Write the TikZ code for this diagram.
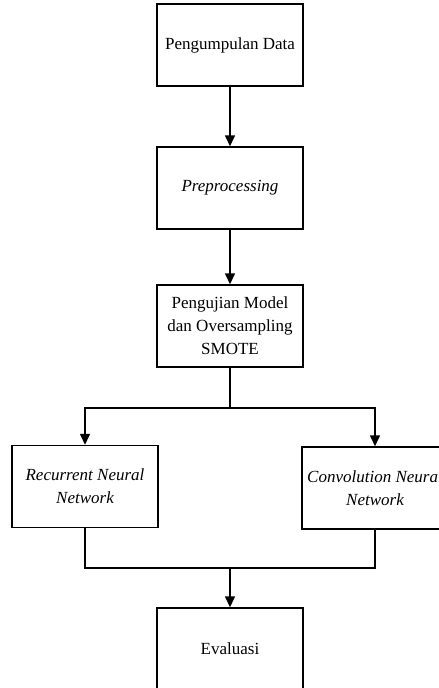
\documentclass[tikz,border=0pt]{standalone}
\usepackage{fontspec}
\setmainfont{Liberation Serif}
\usetikzlibrary{arrows.meta}
\begin{document}
\begin{tikzpicture}[x=1pt,y=-1pt,
  box/.style={draw, line width=1.4pt, minimum width=146pt, minimum height=82pt, inner sep=0pt, align=center,
    font=\fontsize{17}{23}\selectfont},
  txt/.style={inner sep=0pt, align=center, font=\fontsize{17}{23}\selectfont},
  conn/.style={line width=1.4pt},
  arr/.style={conn, -{Triangle[length=11pt,width=10pt]}}]
\useasboundingbox (0,0) rectangle (439,688);
\clip (0,0) rectangle (439,688);
\node[box] (b1) at (230,45) {Pengumpulan Data};
\node[box] (b2) at (230,188) {\itshape Preprocessing};
\node[box] (b3) at (230,326) {Pengujian Model\\dan Oversampling\\SMOTE};
\node[box] (rnn) at (85,486.5) {\itshape Recurrent Neural\\\itshape Network};
\node[box] (cnn) at (375,488) {};
\node[txt] (cnntxt) at (cnn.center) {\itshape Convolution Neural\\\itshape Network};
\node[box] (ev) at (230,649) {Evaluasi};
\coordinate (j1) at (230,408);
\coordinate (j2) at (230,568);
\draw[arr] (b1) -- (b2);
\draw[arr] (b2) -- (b3);
\draw[conn] (b3.south) -- (j1);
\draw[arr] (j1) -| (rnn.north);
\draw[arr] (j1) -| (cnn.north);
\draw[conn] (rnn.south) |- (j2);
\draw[conn] (cnn.south) |- (j2);
\draw[arr] (j2) -- (ev);
\end{tikzpicture}
\end{document}
